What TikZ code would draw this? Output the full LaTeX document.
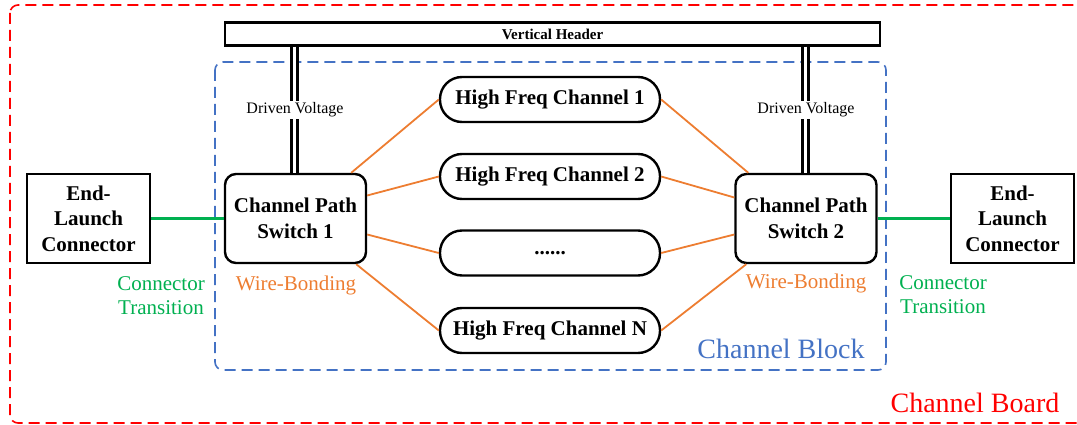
\documentclass[tikz,border=0pt]{standalone}
\usepackage{fontspec}
\setmainfont{Liberation Serif}
\usetikzlibrary{shapes.misc}
\definecolor{boardred}{RGB}{255,0,0}
\definecolor{blockblue}{RGB}{68,114,196}
\definecolor{bondorange}{RGB}{237,125,49}
\definecolor{transgreen}{RGB}{0,176,80}
\newcommand{\fs}[2]{\fontsize{#1}{#2}\selectfont}
\tikzset{
  boxbase/.style={draw=black, line width=2.4pt, fill=white, align=center, inner sep=0pt,
    font=\fs{21}{25.5}\bfseries},
  connbox/.style={boxbase, minimum width=123pt, minimum height=89pt},
  switchbox/.style={boxbase, rounded corners=11pt, minimum width=141pt, minimum height=89pt},
  chanbox/.style={boxbase, rounded corners=22pt, minimum width=220pt, minimum height=45pt},
  headerbox/.style={draw=black, line width=2.4pt, fill=white, inner sep=0pt,
    minimum width=655pt, minimum height=23pt, font=\fs{15}{18}\bfseries},
  voltline/.style={draw=black, line width=3.4pt, double=white, double distance=3pt},
  bondline/.style={draw=bondorange, line width=1.8pt},
  transline/.style={draw=transgreen, line width=3pt},
  voltlabel/.style={fill=white, inner sep=1.5pt, font=\fs{16}{19}},
  bondlabel/.style={text=bondorange, font=\fs{21}{24}},
  translabel/.style={text=transgreen, align=center, font=\fs{21}{24}},
}
\begin{document}
\begin{tikzpicture}[x=1pt, y=-1pt]
\useasboundingbox (0,0) rectangle (1077,425);

% outer board and channel block frames
\draw[boardred, line width=1.6pt, dash pattern=on 11pt off 6pt, rounded corners=8pt]
  (10,5) rectangle (1085,423);
\node[text=boardred, font=\fs{28}{32}] (boardlbl) at (975,403) {Channel Board};

\draw[blockblue, line width=1.6pt, dash pattern=on 11pt off 6pt, rounded corners=8pt]
  (215,62) rectangle (886,370);
\node[text=blockblue, font=\fs{28}{32}] (blocklbl) at (781,349) {Channel Block};

% vertical header
\node[headerbox] (header) at (552.5,34) {Vertical Header};

% switches and connectors
\node[switchbox] (sw1) at (295.5,218.5) {Channel Path\\Switch 1};
\node[switchbox] (sw2) at (806,218.5) {Channel Path\\Switch 2};
\node[connbox] (con1) at (88.5,218.5) {End-\\Launch\\Connector};
\node[connbox] (con2) at (1012.5,218.5) {End-\\Launch\\Connector};

% channels
\node[chanbox] (ch1) at (550,99.5) {High Freq Channel 1};
\node[chanbox] (ch2) at (550,176.5) {High Freq Channel 2};
\node[chanbox] (chd) at (550,253) {......};
\node[chanbox] (chn) at (550,330.5) {High Freq Channel N};

% driven voltage feeds
\coordinate (h1) at (header.south -| 294.5,0);
\coordinate (h2) at (header.south -| 805.5,0);
\draw[voltline] (h1) -- (h1 |- sw1.north);
\draw[voltline] (h2) -- (h2 |- sw2.north);
\node[voltlabel] (dv1) at (295,110) {Driven Voltage};
\node[voltlabel] (dv2) at (806,110) {Driven Voltage};

% wire bonds
\draw[bondline] ([xshift=-16pt]sw1.north east) -- (ch1.west);
\draw[bondline] ([yshift=23pt]sw1.east) -- (ch2.west);
\draw[bondline] ([yshift=-16pt]sw1.east) -- (chd.west);
\draw[bondline] ([xshift=-11pt]sw1.south east) -- (chn.west);
\draw[bondline] ([xshift=14pt]sw2.north west) -- (ch1.east);
\draw[bondline] ([yshift=21pt]sw2.west) -- (ch2.east);
\draw[bondline] ([yshift=-16pt]sw2.west) -- (chd.east);
\draw[bondline] ([xshift=12pt]sw2.south west) -- (chn.east);
\node[bondlabel] (wb1) at (296,285) {Wire-Bonding};
\node[bondlabel] (wb2) at (806,283) {Wire-Bonding};

% connector transitions
\draw[transline] (con1.east) -- (sw1.west);
\draw[transline] (sw2.east) -- (con2.west);
\node[translabel] (ct1) at (161,296) {Connector\\Transition};
\node[translabel] (ct2) at (943,295) {Connector\\Transition};
\end{tikzpicture}
\end{document}
